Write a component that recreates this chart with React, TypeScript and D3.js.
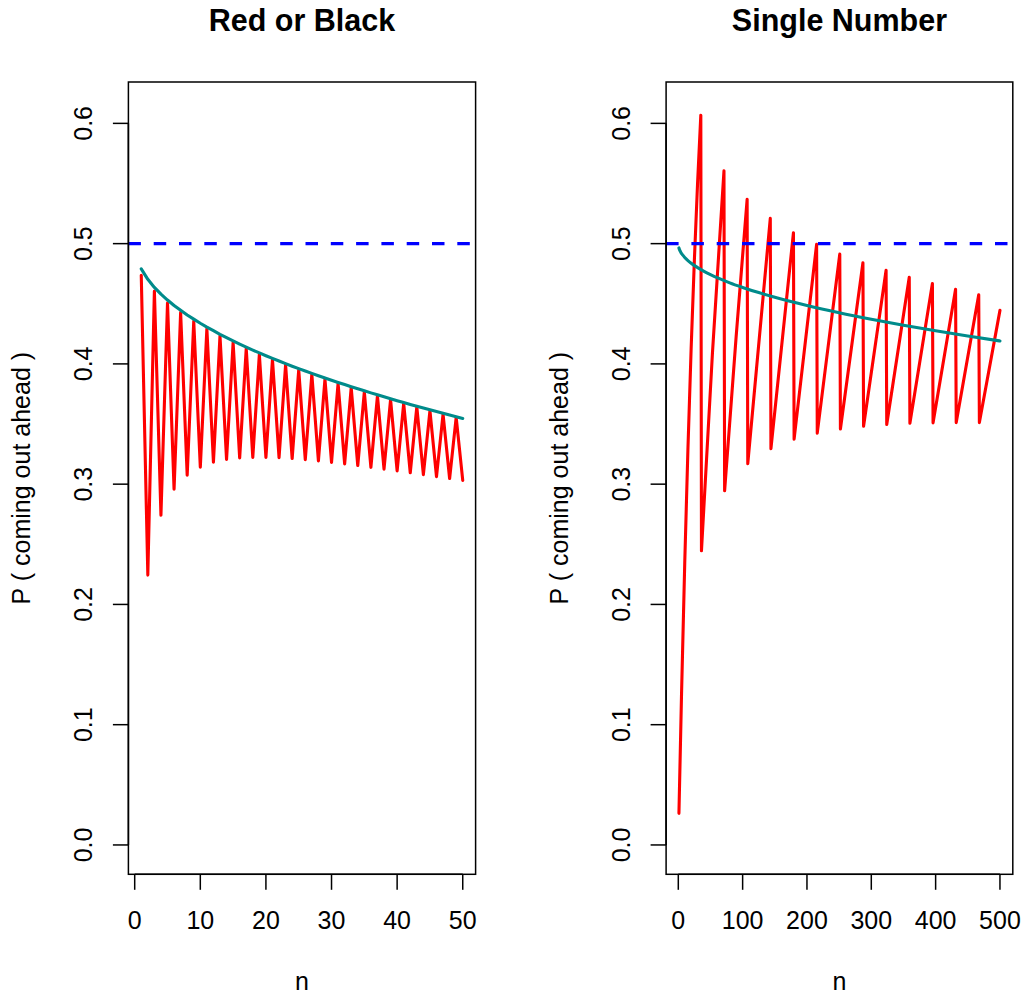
import React from 'react';
import * as d3 from 'd3';

// ---------- data ----------
const rbN = [1, 2, 3, 4, 5, 6, 7, 8, 9, 10, 11, 12, 13, 14, 15, 16, 17, 18, 19, 20, 21, 22, 23, 24, 25,
  26, 27, 28, 29, 30, 31, 32, 33, 34, 35, 36, 37, 38, 39, 40, 41, 42, 43, 44, 45, 46, 47, 48, 49, 50];
const rbExact = [0.4737, 0.2244, 0.4606, 0.2741, 0.4507, 0.2958, 0.4426, 0.3074, 0.4355, 0.3141,
  0.4291, 0.3182, 0.4233, 0.3205, 0.4178, 0.3218, 0.4128, 0.3223, 0.4080, 0.3223,
  0.4035, 0.3220, 0.3992, 0.3213, 0.3951, 0.3204, 0.3912, 0.3193, 0.3874, 0.3181,
  0.3838, 0.3168, 0.3802, 0.3155, 0.3768, 0.3140, 0.3735, 0.3125, 0.3703, 0.3110,
  0.3672, 0.3095, 0.3642, 0.3079, 0.3612, 0.3063, 0.3583, 0.3047, 0.3555, 0.3031];
const rbNormal = [0.4790, 0.4703, 0.4636, 0.4580, 0.4531, 0.4486, 0.4446, 0.4407, 0.4372, 0.4338,
  0.4306, 0.4276, 0.4246, 0.4218, 0.4191, 0.4165, 0.4140, 0.4115, 0.4091, 0.4068,
  0.4046, 0.4024, 0.4002, 0.3981, 0.3961, 0.3941, 0.3921, 0.3902, 0.3883, 0.3864,
  0.3846, 0.3828, 0.3810, 0.3793, 0.3776, 0.3759, 0.3743, 0.3726, 0.3710, 0.3694,
  0.3679, 0.3663, 0.3648, 0.3633, 0.3618, 0.3604, 0.3589, 0.3575, 0.3561, 0.3547];

const snRedN = [1, 5, 10, 15, 20, 25, 30, 35, 36, 53, 71, 72, 90, 107, 108, 143, 144, 179, 180,
  215, 216, 251, 252, 287, 288, 323, 324, 359, 360, 395, 396, 431, 432, 467, 468, 500];
const snRedP = [0.0263, 0.1248, 0.2341, 0.3297, 0.4134, 0.4866, 0.5507, 0.6068, 0.2446, 0.4082,
  0.5606, 0.2945, 0.4233, 0.5369, 0.3170, 0.5210, 0.3295, 0.5091, 0.3374,
  0.4994, 0.3424, 0.4913, 0.3459, 0.4841, 0.3481, 0.4778, 0.3496, 0.4721, 0.3506,
  0.4669, 0.3510, 0.4620, 0.3512, 0.4575, 0.3512, 0.4445];
const snNormN = [1, 2, 4, 7, 10, 15, 20, 30, 40, 50, 65, 80, 100, 125, 150, 175, 200, 250, 300, 350, 400, 450, 500];
const snNormP = [0.4964, 0.4948, 0.4927, 0.4904, 0.4885, 0.4859, 0.4837, 0.4801, 0.4770, 0.4743,
  0.4707, 0.4674, 0.4636, 0.4593, 0.4555, 0.4519, 0.4486, 0.4426, 0.4372, 0.4322, 0.4275, 0.4232, 0.4191];

const yTicks = [0, 0.1, 0.2, 0.3, 0.4, 0.5, 0.6];
const rbXTicks = [0, 10, 20, 30, 40, 50];
const snXTicks = [0, 100, 200, 300, 400, 500];
const titles = ['Red or Black', 'Single Number'];
const yLabel = 'P ( coming out ahead )';
const xLabel = 'n';
const refLevel = 0.5;

// ---------- layout ----------
const W = 1026;
const H = 995;
const TOP = 82;
const BOTTOM = 874.3;
const FONT = 'Liberation Sans, Arial, Helvetica, sans-serif';
const FS = 25;
const TICK = 15.5;

type PanelProps = {
  left: number; right: number; xDomain: [number, number];
  xTicks: number[]; title: string;
  redX: number[]; redY: number[]; tealX: number[]; tealY: number[];
  tealCurve: boolean; id: string;
};

function Panel(p: PanelProps) {
  const x = d3.scaleLinear().domain(p.xDomain).range([p.left, p.right]);
  const y = d3.scaleLinear().domain([-0.0244, 0.6344]).range([BOTTOM, TOP]);
  const line = d3.line<[number, number]>().x(d => x(d[0])).y(d => y(d[1]));
  const tealLine = d3.line<[number, number]>().x(d => x(d[0])).y(d => y(d[1]))
    .curve(p.tealCurve ? d3.curveMonotoneX : d3.curveLinear);
  const red = line(p.redX.map((v, i) => [v, p.redY[i]] as [number, number])) || '';
  const teal = tealLine(p.tealX.map((v, i) => [v, p.tealY[i]] as [number, number])) || '';
  const cx = (p.left + p.right) / 2;
  const cy = (TOP + BOTTOM) / 2;
  const fmt = d3.format('.1f');
  const xt0 = x(p.xTicks[0]);
  const xt1 = x(p.xTicks[p.xTicks.length - 1]);
  return (
    <g>
      <defs>
        <clipPath id={p.id}>
          <rect x={p.left} y={TOP} width={p.right - p.left} height={BOTTOM - TOP} />
        </clipPath>
      </defs>
      <g clipPath={`url(#${p.id})`}>
        <path d={red} fill="none" stroke="#FF0000" strokeWidth={3.1} strokeLinejoin="round" strokeLinecap="round" />
        <line x1={p.left} x2={p.right} y1={y(refLevel)} y2={y(refLevel)} stroke="#0000FF" strokeWidth={3.1}
          strokeDasharray="12.5,12.8" />
        <path d={teal} fill="none" stroke="#008B8B" strokeWidth={3.1} strokeLinejoin="round" strokeLinecap="round" />
      </g>
      <rect x={p.left} y={TOP} width={p.right - p.left} height={BOTTOM - TOP} fill="none" stroke="#000" strokeWidth={1.5} />
      {/* x axis */}
      <line x1={xt0} x2={xt1} y1={BOTTOM} y2={BOTTOM} stroke="#000" strokeWidth={1.5} />
      {p.xTicks.map(t => (
        <g key={t}>
          <line x1={x(t)} x2={x(t)} y1={BOTTOM} y2={BOTTOM + TICK} stroke="#000" strokeWidth={1.5} />
          <text x={x(t)} y={929} textAnchor="middle" fontFamily={FONT} fontSize={FS}>{t}</text>
        </g>
      ))}
      {/* y axis */}
      <line x1={p.left} x2={p.left} y1={y(yTicks[0])} y2={y(yTicks[yTicks.length - 1])} stroke="#000" strokeWidth={1.5} />
      {yTicks.map(t => (
        <g key={t}>
          <line x1={p.left - TICK} x2={p.left} y1={y(t)} y2={y(t)} stroke="#000" strokeWidth={1.5} />
          <text transform={`translate(${p.left - 36.5},${y(t)}) rotate(-90)`} textAnchor="middle"
            fontFamily={FONT} fontSize={FS}>{fmt(t)}</text>
        </g>
      ))}
      <text transform={`translate(${p.left - 98},${cy}) rotate(-90)`} textAnchor="middle"
        fontFamily={FONT} fontSize={FS}>{yLabel}</text>
      <text x={cx} y={990} textAnchor="middle" fontFamily={FONT} fontSize={FS}>{xLabel}</text>
      <text x={cx} y={30.7} textAnchor="middle" fontFamily={FONT} fontSize={30.5} fontWeight="bold">{p.title}</text>
    </g>
  );
}

export default function App() {
  return (
    <svg width={W} height={H} viewBox={`0 0 ${W} ${H}`}
      style={{ position: 'absolute', left: 0, top: 0, background: '#fff' }}>
      <rect x={0} y={0} width={W} height={H} fill="#fff" />
      <Panel id="clipA" left={128.4} right={475.6} xDomain={[-0.96, 51.96]} xTicks={rbXTicks}
        title={titles[0]} redX={rbN} redY={rbExact} tealX={rbN} tealY={rbNormal} tealCurve={false} />
      <Panel id="clipB" left={666.1} right={1012.8} xDomain={[-18.96, 519.96]} xTicks={snXTicks}
        title={titles[1]} redX={snRedN} redY={snRedP} tealX={snNormN} tealY={snNormP} tealCurve={true} />
    </svg>
  );
}
